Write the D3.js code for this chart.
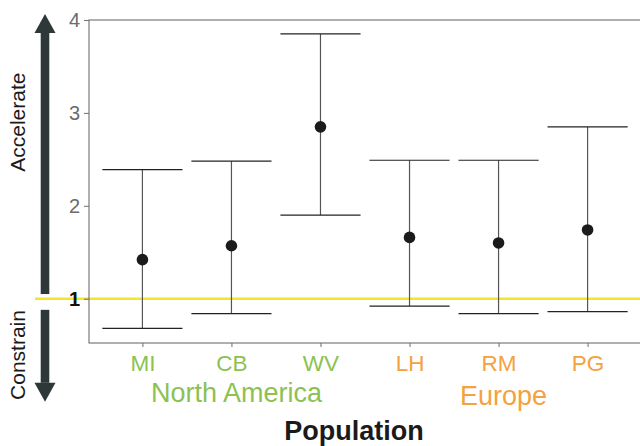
<!DOCTYPE html>
<html>
<head>
<meta charset="utf-8">
<script src="https://cdn.jsdelivr.net/npm/d3@7"></script>
<style>
  body { margin: 0; background: #fff; }
  svg text { font-family: "Liberation Sans", Arial, sans-serif; }
</style>
</head>
<body>
<div id="chart"></div>
<script>
  // data
  var populations = ["MI", "CB", "WV", "LH", "RM", "PG"];
  var regions     = ["North America", "North America", "North America", "Europe", "Europe", "Europe"];
  var estimate    = [1.42, 1.57, 2.85, 1.66, 1.60, 1.74];
  var lower       = [0.68, 0.84, 1.90, 0.92, 0.84, 0.86];
  var upper       = [2.39, 2.48, 3.85, 2.49, 2.49, 2.85];
  var yTicks      = [1, 2, 3, 4];
  var regionNames = ["North America", "Europe"];

  var regionColor = { "North America": "#8cc152", "Europe": "#f4a13f" };

  var width = 640, height = 446;
  var margin = {top: 20, right: -1, bottom: 103, left: 89};

  var svg = d3.select("#chart").append("svg")
      .attr("width", width)
      .attr("height", height);

  var x = d3.scalePoint()
      .domain(populations)
      .range([margin.left, width - margin.right])
      .padding(0.6);

  var y = d3.scaleLinear()
      .domain([0.523, 4])
      .range([height - margin.bottom, margin.top]);

  var step = x.step();
  var capHalf = step * 0.45;

  // reference line at 1 (drawn first, label "1" sits on top)
  svg.append("line")
      .attr("x1", 35).attr("x2", width)
      .attr("y1", y(1)).attr("y2", y(1))
      .attr("stroke", "#f3e629")
      .attr("stroke-width", 2.6);

  // panel border
  svg.append("rect")
      .attr("x", margin.left)
      .attr("y", margin.top)
      .attr("width", width - margin.right - margin.left)
      .attr("height", y.range()[0] - margin.top)
      .attr("fill", "none")
      .attr("stroke", "#6e6e6e")
      .attr("stroke-width", 1.1);

  // y axis
  var yAxis = svg.append("g")
      .attr("transform", "translate(" + margin.left + ",0)")
      .call(d3.axisLeft(y).tickValues(yTicks).tickSize(5).tickPadding(4).tickFormat(d3.format("d")));
  yAxis.select(".domain").remove();
  yAxis.selectAll(".tick line").attr("stroke", "#6e6e6e");
  yAxis.selectAll(".tick text")
      .style("font-size", "20px")
      .attr("fill", d => d === 1 ? "#111" : "#6b6b6b")
      .style("font-weight", d => d === 1 ? "bold" : "normal");

  // x axis
  var xAxis = svg.append("g")
      .attr("transform", "translate(0," + y.range()[0] + ")")
      .call(d3.axisBottom(x).tickSize(4).tickPadding(8));
  xAxis.select(".domain").remove();
  xAxis.selectAll(".tick line").attr("stroke", "#6e6e6e");
  xAxis.selectAll(".tick text")
      .style("font-size", "22.5px")
      .attr("fill", (d, i) => regionColor[regions[i]]);

  // error bars
  var bars = svg.append("g").selectAll("g")
      .data(populations)
      .enter().append("g");

  bars.append("line")
      .attr("x1", d => x(d)).attr("x2", d => x(d))
      .attr("y1", (d, i) => y(lower[i]))
      .attr("y2", (d, i) => y(upper[i]))
      .attr("stroke", "#555")
      .attr("stroke-width", 1.2);

  bars.append("line")
      .attr("x1", d => x(d) - capHalf).attr("x2", d => x(d) + capHalf)
      .attr("y1", (d, i) => y(upper[i])).attr("y2", (d, i) => y(upper[i]))
      .attr("stroke", "#222")
      .attr("stroke-width", 1.2);

  bars.append("line")
      .attr("x1", d => x(d) - capHalf).attr("x2", d => x(d) + capHalf)
      .attr("y1", (d, i) => y(lower[i])).attr("y2", (d, i) => y(lower[i]))
      .attr("stroke", "#222")
      .attr("stroke-width", 1.2);

  bars.append("circle")
      .attr("cx", d => x(d))
      .attr("cy", (d, i) => y(estimate[i]))
      .attr("r", 5.8)
      .attr("fill", "#1c1a1b");

  // region labels, roughly centred under their populations
  regionNames.forEach(function(r) {
    var members = populations.filter((p, i) => regions[i] === r);
    var cx = d3.mean(members, p => x(p)) + 5;
    svg.append("text")
        .attr("x", cx)
        .attr("y", r === "Europe" ? 405 : 402)
        .attr("text-anchor", "middle")
        .style("font-size", "27px")
        .attr("fill", regionColor[r])
        .text(r);
  });

  svg.append("text")
      .attr("x", 354)
      .attr("y", 440)
      .attr("text-anchor", "middle")
      .style("font-size", "27px")
      .style("font-weight", "bold")
      .attr("fill", "#1a1a1a")
      .text("Population");

  // accelerate / constrain arrows
  var arrowX = 45, shaftW = 8.6, headW = 21, headH = 19;
  var arrowColor = "#2e3838";

  function arrow(from, to) {
    var y0 = y(from), y1 = y(to);
    var dir = y1 < y0 ? -1 : 1;
    var yb = y1 - dir * headH;
    svg.append("rect")
        .attr("x", arrowX - shaftW / 2)
        .attr("y", Math.min(y0, yb))
        .attr("width", shaftW)
        .attr("height", Math.abs(yb - y0))
        .attr("fill", arrowColor);
    svg.append("path")
        .attr("d", "M" + (arrowX - headW / 2) + "," + yb +
                   "L" + (arrowX + headW / 2) + "," + yb +
                   "L" + arrowX + "," + y1 + "Z")
        .attr("fill", arrowColor);
  }
  arrow(1.05, 4.065);
  arrow(0.88, -0.11);

  svg.append("text")
      .attr("transform", "translate(25," + y(2.9) + ") rotate(-90)")
      .attr("text-anchor", "middle")
      .style("font-size", "21px")
      .attr("fill", "#1a1a1a")
      .text("Accelerate");

  svg.append("text")
      .attr("transform", "translate(25," + y(0.394) + ") rotate(-90)")
      .attr("text-anchor", "middle")
      .style("font-size", "21px")
      .attr("fill", "#1a1a1a")
      .text("Constrain");
</script>
</body>
</html>
